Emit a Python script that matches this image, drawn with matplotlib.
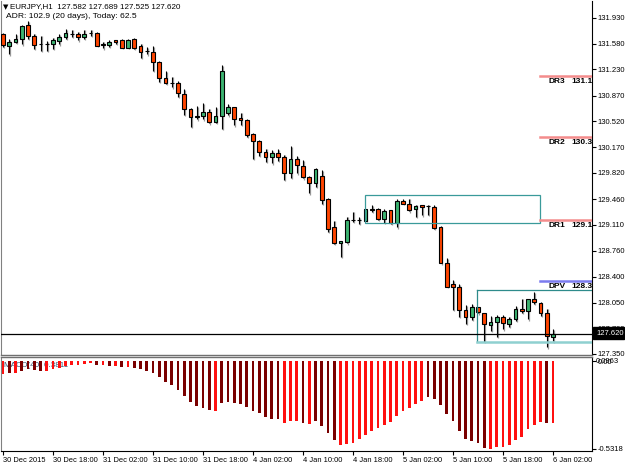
import matplotlib.pyplot as plt
from matplotlib.patches import Rectangle

plt.rcParams['font.family'] = ['Liberation Sans', 'DejaVu Sans']

# EURJPY H1 candles
opens = [131.712, 131.552, 131.598, 131.643, 131.830, 131.688, 131.575, 131.579, 131.571, 131.616,
         131.671, 131.716, 131.716, 131.671, 131.725, 131.725, 131.575, 131.562, 131.626, 131.634,
         131.525, 131.643, 131.552, 131.480, 131.470, 131.326, 131.108, 131.048, 131.040, 130.894,
         130.693, 130.584, 130.594, 130.648, 130.512, 130.594, 130.631, 130.712, 130.567, 130.539,
         130.348, 130.257, 130.103, 130.039, 130.085, 130.031, 129.821, 130.004, 129.912, 129.766,
         129.676, 129.776, 129.458, 129.077, 128.859, 128.880, 129.176, 129.176, 129.167, 129.322,
         129.322, 129.186, 129.313, 129.139, 129.439, 129.390, 129.322, 129.377, 129.367, 129.349,
         129.085, 128.586, 128.304, 128.259, 127.949, 127.858, 127.986, 127.904, 127.749, 127.786,
         127.858, 127.759, 127.823, 127.967, 127.940, 128.095, 128.041, 127.904, 127.582]
highs = [131.725, 131.643, 131.712, 131.834, 131.889, 131.716, 131.688, 131.616, 131.661, 131.707,
         131.780, 131.770, 131.743, 131.770, 131.770, 131.739, 131.607, 131.626, 131.630, 131.643,
         131.637, 131.650, 131.579, 131.534, 131.544, 131.344, 131.203, 131.130, 131.067, 130.958,
         130.703, 130.730, 130.767, 130.693, 130.712, 131.285, 130.757, 130.721, 130.639, 130.549,
         130.358, 130.267, 130.148, 130.130, 130.140, 130.066, 130.185, 130.049, 129.994, 129.776,
         129.881, 129.858, 129.472, 129.167, 128.890, 129.221, 129.289, 129.217, 129.326, 129.381,
         129.340, 129.326, 129.319, 129.458, 129.462, 129.467, 129.385, 129.385, 129.385, 129.377,
         129.094, 128.658, 128.358, 128.304, 128.014, 128.031, 127.994, 127.909, 127.868, 127.877,
         127.877, 127.858, 128.004, 128.103, 128.103, 128.195, 128.058, 127.967, 127.689]
lows = [131.534, 131.435, 131.589, 131.571, 131.643, 131.507, 131.484, 131.480, 131.507, 131.571,
        131.643, 131.671, 131.626, 131.643, 131.688, 131.548, 131.517, 131.534, 131.575, 131.521,
        131.521, 131.511, 131.389, 131.435, 131.207, 131.057, 131.030, 130.985, 130.857, 130.612,
        130.448, 130.549, 130.549, 130.494, 130.503, 130.421, 130.603, 130.467, 130.475, 130.312,
        130.012, 130.049, 129.967, 129.949, 129.985, 129.721, 129.749, 129.813, 129.742, 129.540,
        129.630, 129.394, 129.017, 128.849, 128.676, 128.859, 129.153, 129.122, 129.163, 129.289,
        129.176, 129.135, 129.122, 129.077, 129.394, 129.295, 129.221, 129.240, 129.248, 129.058,
        128.586, 128.263, 127.949, 127.854, 127.759, 127.813, 127.904, 127.517, 127.667, 127.585,
        127.686, 127.722, 127.804, 127.913, 127.823, 128.031, 127.868, 127.441, 127.525]
closes = [131.555, 131.598, 131.643, 131.825, 131.688, 131.562, 131.571, 131.578, 131.626, 131.671,
          131.725, 131.718, 131.671, 131.716, 131.722, 131.552, 131.568, 131.607, 131.607, 131.525,
          131.634, 131.517, 131.470, 131.477, 131.326, 131.105, 131.048, 131.045, 130.903, 130.693,
          130.584, 130.587, 130.648, 130.512, 130.594, 131.203, 130.712, 130.557, 130.539, 130.339,
          130.249, 130.103, 130.039, 130.085, 130.031, 129.821, 130.008, 129.922, 129.766, 129.676,
          129.867, 129.449, 129.049, 128.859, 128.886, 129.176, 129.174, 129.172, 129.322, 129.319,
          129.186, 129.303, 129.131, 129.439, 129.390, 129.313, 129.367, 129.349, 129.364, 129.067,
          128.586, 128.267, 128.267, 127.949, 127.858, 127.986, 127.922, 127.759, 127.786, 127.858,
          127.768, 127.823, 127.967, 127.932, 128.095, 128.058, 127.904, 127.595, 127.620]

# MACD histogram and its two colours (1 = bright red)
macd = [-0.079, -0.071, -0.071, -0.059, -0.047, -0.055, -0.059, -0.059, -0.051, -0.042,
        -0.030, -0.022, -0.022, -0.018, -0.014, -0.022, -0.026, -0.030, -0.030, -0.034,
        -0.034, -0.042, -0.047, -0.059, -0.071, -0.099, -0.127, -0.148, -0.176, -0.212,
        -0.249, -0.273, -0.285, -0.297, -0.301, -0.253, -0.249, -0.257, -0.261, -0.277,
        -0.301, -0.317, -0.342, -0.350, -0.354, -0.374, -0.366, -0.366, -0.374, -0.384,
        -0.366, -0.392, -0.435, -0.481, -0.512, -0.501, -0.495, -0.475, -0.451, -0.423,
        -0.408, -0.390, -0.370, -0.334, -0.303, -0.285, -0.259, -0.241, -0.218, -0.231,
        -0.269, -0.322, -0.366, -0.423, -0.471, -0.483, -0.499, -0.526, -0.532, -0.522,
        -0.520, -0.510, -0.479, -0.459, -0.415, -0.388, -0.370, -0.374, -0.378]
macd_bright = [1, 0, 1, 0, 0, 0, 0, 1, 1, 1,
               1, 1, 1, 1, 1, 0, 1, 0, 1, 0,
               1, 0, 0, 0, 0, 0, 0, 0, 0, 0,
               0, 0, 0, 0, 1, 0, 0, 0, 0, 0,
               0, 0, 0, 0, 0, 1, 1, 1, 0, 1,
               0, 0, 0, 0, 1, 1, 1, 1, 1, 1,
               1, 1, 1, 1, 1, 1, 1, 1, 0, 0,
               0, 0, 0, 0, 0, 0, 0, 0, 1, 1,
               1, 1, 1, 1, 1, 1, 1, 0, 1]

time_ticks = [0, 8, 16, 24, 32, 40, 48, 56, 64, 72, 80, 88]
time_labels = ["30 Dec 2015", "30 Dec 18:00", "31 Dec 02:00", "31 Dec 10:00", "31 Dec 18:00",
               "4 Jan 02:00", "4 Jan 10:00", "4 Jan 18:00", "5 Jan 02:00", "5 Jan 10:00",
               "5 Jan 18:00", "6 Jan 02:00"]
price_ticks = [131.930, 131.580, 131.230, 130.870, 130.520, 130.170, 129.820,
               129.460, 129.110, 128.760, 128.400, 128.050, 127.700, 127.350]

levels = [("DR3", 131.139, "131.14"), ("DR2", 130.308, "130.31"),
          ("DR1", 129.176, "129.18"), ("DPV", 128.345, "128.35")]
last_price = 127.620

W, H = 625, 469
fig = plt.figure(figsize=(6.25, 4.69), dpi=100)
fig.patch.set_facecolor('white')


def box(x0, y0, x1, y1):
    return [x0 / W, 1 - y1 / H, (x1 - x0) / W, (y1 - y0) / H]


ax = fig.add_axes(box(1, 1, 592, 355))
axm = fig.add_axes(box(1, 357, 592, 451))

xmin, xmax = -0.32, 94.24
n = len(opens)
xs = list(range(n))

# candles
for i in xs:
    o, h, l, c = opens[i], highs[i], lows[i], closes[i]
    ax.plot([i + 0.17, i + 0.17], [l - 0.02, h - 0.01], color='#9a9a9a', lw=0.9, zorder=1,
            solid_capstyle='butt')
    ax.plot([i, i], [l, h], color='black', lw=0.8, zorder=2, solid_capstyle='butt')
    up = c >= o
    bottom = min(o, c)
    height = max(abs(c - o), 0.0005)
    ax.bar(i, height, bottom=bottom, width=0.62, color='#3cb371' if up else '#ff4500',
           edgecolor='black', linewidth=0.8, zorder=3)

# zones
ax.add_patch(Rectangle((57.9, 129.131), 28.0, 0.379, fill=False, edgecolor='#3a9a9a',
                       lw=0.9, zorder=4))
ax.plot([75.84, 75.84], [127.517, 128.222], color='#2e8b8b', lw=0.9, zorder=4)
ax.plot([75.84, xmax], [128.222, 128.222], color='#2e8b8b', lw=0.9, zorder=4)
ax.plot([75.84, xmax], [127.517, 127.517], color='#8fd0d0', lw=1.8, zorder=4)

# daily range levels
for name, val, txt in levels:
    col = '#7b7bef' if name == "DPV" else '#f48c8c'
    ax.plot([85.9, xmax], [val, val], color=col, lw=1.8, zorder=4)
    ax.text(87.2, val - 0.075, name, fontsize=6, fontweight='bold', va='center', zorder=5)
    ax.text(90.9, val - 0.075, txt, fontsize=6, fontweight='bold', va='center', zorder=5,
            clip_on=True)

# bid line
ax.axhline(last_price, color='black', lw=0.9, zorder=4)

ax.set_xlim(xmin, xmax)
ax.set_ylim(127.336, 132.161)
ax.set_xticks([])
ax.yaxis.tick_right()
ax.set_yticks(price_ticks)
ax.set_yticklabels([f"{p:.3f}" for p in price_ticks])
ax.tick_params(axis='y', length=3, width=0.8, pad=1, labelsize=5.5, direction='out')
ax.spines['top'].set_visible(False)
ax.spines['left'].set_color('#808080')
ax.spines['right'].set_color('black')
ax.spines['bottom'].set_color('#707070')
ax.spines['bottom'].set_linewidth(1.0)

# current price marker on the axis (covers the lower part of 127.700 as in MT4)
fig.patches.append(Rectangle((593 / W, 1 - 339 / H), 31 / W, 12 / H, transform=fig.transFigure,
                             facecolor='black', edgecolor='black', zorder=10))
fig.text(596 / W, 1 - 333 / H, f"{last_price:.3f}", color='white', fontsize=5.5,
         va='center', zorder=11)

# MACD panel
cols = ['#ff1010' if b else '#7a0000' for b in macd_bright]
axm.text(0.1, -0.004, "MACD(40) 0.3811", fontsize=5.8, color='#2f4f6f', va='top', zorder=1)
axm.bar(xs, macd, width=0.45, color=cols, zorder=2)
axm.set_xlim(xmin, xmax)
axm.set_ylim(-0.546, 0.0243)
axm.yaxis.tick_right()
axm.set_yticks([0.0, -0.5318])
axm.set_yticklabels(["0.00", "-0.5318"])
axm.tick_params(axis='y', length=3, width=0.8, pad=1, labelsize=5.5)
axm.text(1.007, 0.955, "0.0963", transform=axm.transAxes, fontsize=5.5, va='center')
axm.set_xticks(time_ticks)
axm.set_xticklabels(time_labels, ha='left')
axm.tick_params(axis='x', length=3, width=0.8, pad=1, labelsize=5.4)
axm.spines['left'].set_color('#808080')
axm.spines['top'].set_color('#707070')
axm.spines['top'].set_linewidth(1.0)

# header
fig.text(3 / W, 1 - 7 / H, "\u25bc", fontsize=5, va='center', family=['DejaVu Sans'])
fig.text(10 / W, 1 - 7 / H, "EURJPY,H1  127.582 127.689 127.525 127.620", fontsize=5.8,
         va='center')
fig.text(6 / W, 1 - 17 / H, "ADR: 102.9 (20 days), Today: 62.5", fontsize=6.1, va='center')

plt.savefig("out.png", dpi=100)
